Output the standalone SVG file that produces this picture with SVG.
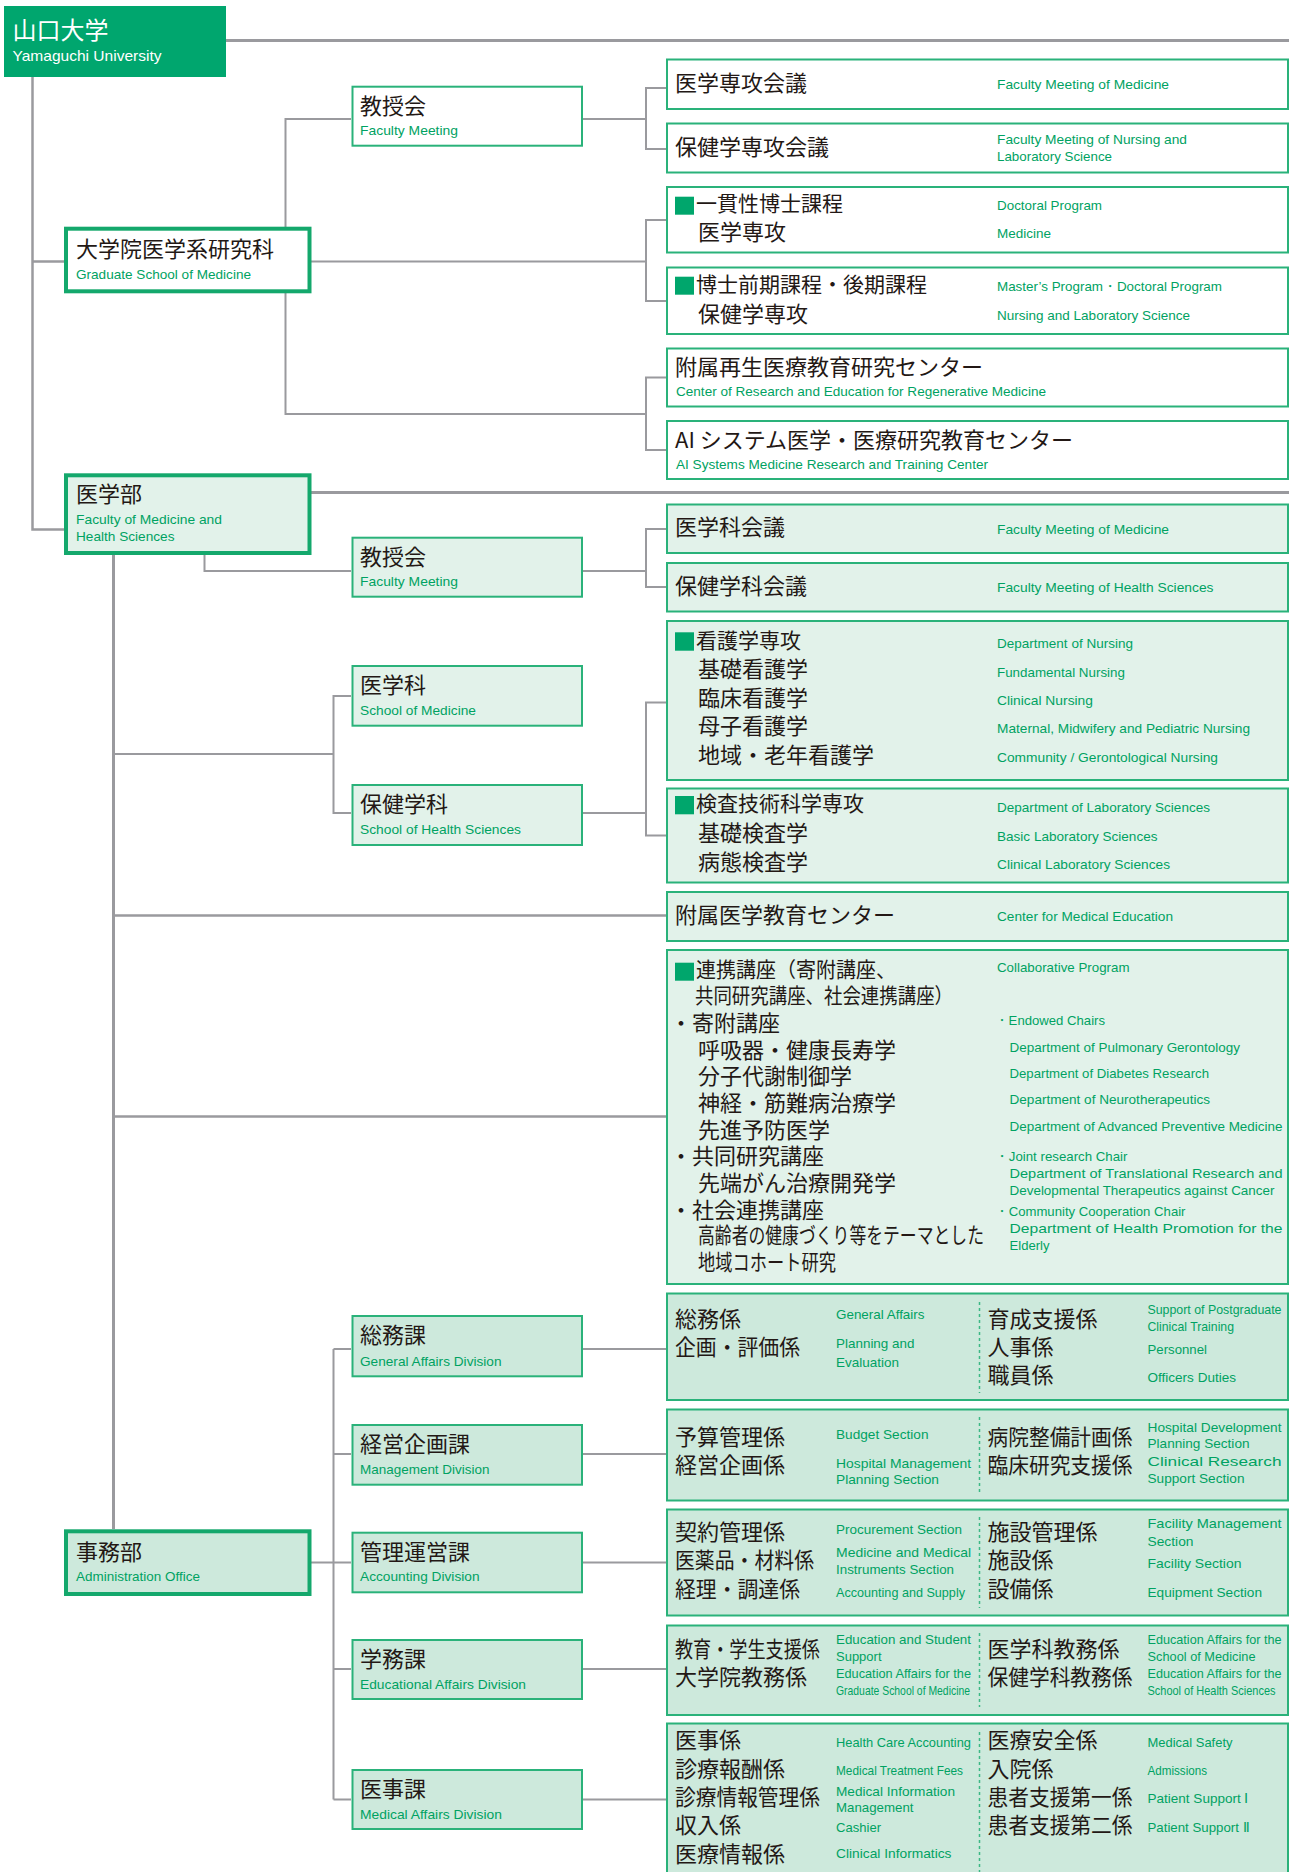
<svg xmlns="http://www.w3.org/2000/svg" width="1289" height="1872" viewBox="0 0 1289 1872">
<style>
.ln{stroke:#9a9a9e;stroke-width:2;fill:none}
.lb{stroke-width:3}
.j{font-family:"Noto Sans CJK JP","Noto Sans CJK SC",sans-serif;font-size:22px;fill:#231815}
.jh{font-size:21px}
.e{font-family:"Liberation Sans",Arial,sans-serif;font-size:13.5px;fill:#00a262}
.w{fill:#fff}
.bt{fill:#fff;stroke:#14a86c;stroke-width:4}
.bm{fill:#e2f2ea;stroke:#14a86c;stroke-width:4}
.ba{fill:#cde9dc;stroke:#14a86c;stroke-width:4}
.s0{fill:#fff;stroke:#2ab27a;stroke-width:2}
.s1{fill:#e2f2ea;stroke:#2ab27a;stroke-width:2}
.s2{fill:#cde9dc;stroke:#2ab27a;stroke-width:2}
.sq{fill:#00a66c}
.dv{stroke:#3cb884;stroke-width:1.5;stroke-dasharray:3 3;fill:none}
</style>

<g id="connectors">
<path class="ln lb" d="M226 40.5H1289"/>
<path class="ln" style="stroke-width:2.5" d="M32.5 77V529.5H64M32.5 261.5H64"/>
<path class="ln" d="M311 261.5H646M351 119H285.5V414H646M583 119H646"/>
<path class="ln" d="M667 88H646V149H667"/>
<path class="ln" d="M667 220H646V301H667"/>
<path class="ln" d="M667 377.5H646V450H667"/>
<path class="ln lb" d="M311 492.5H1289"/>
<path class="ln" d="M204.5 555V571H351M583 571H646M667 529H646V587H667"/>
<path class="ln lb" d="M113.5 555V1529"/>
<path class="ln" d="M113.5 754H333.5M351 696H333.5V813H351M583 813H646M667 702.5H646V835.5H667"/>
<path class="ln" style="stroke-width:2.5" d="M113.5 915.5H667M113.5 1116.5H667"/>
<path class="ln" d="M311 1562.5H351M333.5 1349V1799.5M333.5 1349H351M333.5 1454H351M333.5 1669H351M333.5 1799.5H351"/>
<path class="ln" d="M583 1349H667M583 1454H667M583 1562.5H667M583 1669H667M583 1799.5H667"/>
</g>

<g id="n-yamaguchi">
<rect x="4" y="6" width="222" height="71" fill="#00a66e"/>
<text class="j w" x="12.5" y="39" style="font-size:24px">山口大学</text>
<text class="e w" x="12.5" y="61" style="font-size:14.5px" textLength="149" lengthAdjust="spacingAndGlyphs">Yamaguchi University</text>
</g>

<g id="n-graduate">
<rect class="bt" x="66" y="228.7" width="243.5" height="62.6"/>
<text class="j" x="76" y="257">大学院医学系研究科</text>
<text class="e" x="76" y="278.5" textLength="175" lengthAdjust="spacingAndGlyphs">Graduate School of Medicine</text>
</g>

<g id="n-fm1">
<rect class="s0" x="352.5" y="86.7" width="229.5" height="59"/>
<text class="j" x="360" y="114">教授会</text>
<text class="e" x="360" y="135" textLength="98" lengthAdjust="spacingAndGlyphs">Faculty Meeting</text>
</g>

<g id="r1">
<rect class="s0" x="667" y="59.5" width="621" height="49.5"/>
<text class="j" x="675" y="90.5">医学専攻会議</text>
<text class="e" x="997" y="88.5" textLength="172" lengthAdjust="spacingAndGlyphs">Faculty Meeting of Medicine</text>
</g>
<g id="r2">
<rect class="s0" x="667" y="123.5" width="621" height="49"/>
<text class="j" x="675" y="154.5">保健学専攻会議</text>
<text class="e" x="997" y="143.5" textLength="190" lengthAdjust="spacingAndGlyphs">Faculty Meeting of Nursing and</text>
<text class="e" x="997" y="161" textLength="115" lengthAdjust="spacingAndGlyphs">Laboratory Science</text>
</g>
<g id="r3">
<rect class="s0" x="667" y="187" width="621" height="65.5"/>
<rect class="sq" x="675" y="196.7" width="19" height="18"/>
<text class="j jh" x="696" y="210.5">一貫性博士課程</text>
<text class="j" x="698" y="239.5">医学専攻</text>
<text class="e" x="997" y="209.5" textLength="105" lengthAdjust="spacingAndGlyphs">Doctoral Program</text>
<text class="e" x="997" y="237.5" textLength="54" lengthAdjust="spacingAndGlyphs">Medicine</text>
</g>
<g id="r4">
<rect class="s0" x="667" y="267.5" width="621" height="66.5"/>
<rect class="sq" x="675" y="276.7" width="19" height="18"/>
<text class="j jh" x="696" y="292">博士前期課程・後期課程</text>
<text class="j" x="698" y="321.5">保健学専攻</text>
<text class="e" x="997" y="291" textLength="225" lengthAdjust="spacingAndGlyphs">Master’s Program・Doctoral Program</text>
<text class="e" x="997" y="319.5" textLength="193" lengthAdjust="spacingAndGlyphs">Nursing and Laboratory Science</text>
</g>
<g id="r5">
<rect class="s0" x="667" y="348.5" width="621" height="58"/>
<text class="j" x="675" y="374.5">附属再生医療教育研究センター</text>
<text class="e" x="676" y="396" textLength="370" lengthAdjust="spacingAndGlyphs">Center of Research and Education for Regenerative Medicine</text>
</g>
<g id="r6">
<rect class="s0" x="667" y="421" width="621" height="58"/>
<text class="j" x="675" y="447.5">AI システム医学・医療研究教育センター</text>
<text class="e" x="676" y="469" textLength="312" lengthAdjust="spacingAndGlyphs">AI Systems Medicine Research and Training Center</text>
</g>

<g id="n-igakubu">
<rect class="bm" x="66" y="475.3" width="243.5" height="77.7"/>
<text class="j" x="76" y="502">医学部</text>
<text class="e" x="76" y="523.5" textLength="146" lengthAdjust="spacingAndGlyphs">Faculty of Medicine and</text>
<text class="e" x="76" y="540.5" textLength="98.5" lengthAdjust="spacingAndGlyphs">Health Sciences</text>
</g>

<g id="n-fm2">
<rect class="s1" x="352.5" y="537.7" width="229.5" height="59"/>
<text class="j" x="360" y="564.5">教授会</text>
<text class="e" x="360" y="586" textLength="98" lengthAdjust="spacingAndGlyphs">Faculty Meeting</text>
</g>
<g id="n-igakuka">
<rect class="s1" x="352.5" y="666" width="229.5" height="59.7"/>
<text class="j" x="360" y="693">医学科</text>
<text class="e" x="360" y="714.5" textLength="116" lengthAdjust="spacingAndGlyphs">School of Medicine</text>
</g>
<g id="n-hokengakuka">
<rect class="s1" x="352.5" y="785" width="229.5" height="60"/>
<text class="j" x="360" y="811.5">保健学科</text>
<text class="e" x="360" y="833.5" textLength="161" lengthAdjust="spacingAndGlyphs">School of Health Sciences</text>
</g>

<g id="r7">
<rect class="s1" x="667" y="504.5" width="621" height="48.5"/>
<text class="j" x="675" y="535">医学科会議</text>
<text class="e" x="997" y="533.5" textLength="172" lengthAdjust="spacingAndGlyphs">Faculty Meeting of Medicine</text>
</g>
<g id="r8">
<rect class="s1" x="667" y="563" width="621" height="48.5"/>
<text class="j" x="675" y="594">保健学科会議</text>
<text class="e" x="997" y="592" textLength="216.5" lengthAdjust="spacingAndGlyphs">Faculty Meeting of Health Sciences</text>
</g>
<g id="r9">
<rect class="s1" x="667" y="621" width="621" height="159"/>
<rect class="sq" x="675" y="632.3" width="19" height="18.4"/>
<text class="j jh" x="696" y="647.5">看護学専攻</text>
<text class="j" x="698" y="676.5">基礎看護学</text>
<text class="j" x="698" y="705.5">臨床看護学</text>
<text class="j" x="698" y="734">母子看護学</text>
<text class="j" x="698" y="763">地域・老年看護学</text>
<text class="e" x="997" y="648" textLength="136" lengthAdjust="spacingAndGlyphs">Department of Nursing</text>
<text class="e" x="997" y="676.5" textLength="128" lengthAdjust="spacingAndGlyphs">Fundamental Nursing</text>
<text class="e" x="997" y="704.5" textLength="96" lengthAdjust="spacingAndGlyphs">Clinical Nursing</text>
<text class="e" x="997" y="733" textLength="253" lengthAdjust="spacingAndGlyphs">Maternal, Midwifery and Pediatric Nursing</text>
<text class="e" x="997" y="761.5" textLength="221" lengthAdjust="spacingAndGlyphs">Community / Gerontological Nursing</text>
</g>
<g id="r10">
<rect class="s1" x="667" y="788.5" width="621" height="94"/>
<rect class="sq" x="675" y="796" width="19" height="18.3"/>
<text class="j jh" x="696" y="811">検査技術科学専攻</text>
<text class="j" x="698" y="840.5">基礎検査学</text>
<text class="j" x="698" y="869.5">病態検査学</text>
<text class="e" x="997" y="812" textLength="213" lengthAdjust="spacingAndGlyphs">Department of Laboratory Sciences</text>
<text class="e" x="997" y="840.5" textLength="160.5" lengthAdjust="spacingAndGlyphs">Basic Laboratory Sciences</text>
<text class="e" x="997" y="868.5" textLength="173" lengthAdjust="spacingAndGlyphs">Clinical Laboratory Sciences</text>
</g>
<g id="r11">
<rect class="s1" x="667" y="892" width="621" height="49"/>
<text class="j" x="675" y="923">附属医学教育センター</text>
<text class="e" x="997" y="920.5" textLength="176" lengthAdjust="spacingAndGlyphs">Center for Medical Education</text>
</g>
<g id="r12">
<rect class="s1" x="667" y="950" width="621" height="334"/>
<rect class="sq" x="675" y="962.7" width="19" height="18"/>
<text class="j jh" x="696" y="976.5" textLength="200" lengthAdjust="spacingAndGlyphs">連携講座（寄附講座、</text>
<text class="j jh" x="695" y="1003" textLength="258" lengthAdjust="spacingAndGlyphs">共同研究講座、社会連携講座）</text>
<text class="j" x="670" y="1030.5">・寄附講座</text>
<text class="j" x="698" y="1057.5">呼吸器・健康長寿学</text>
<text class="j" x="698" y="1084">分子代謝制御学</text>
<text class="j" x="698" y="1110.5">神経・筋難病治療学</text>
<text class="j" x="698" y="1137.5">先進予防医学</text>
<text class="j" x="670" y="1164">・共同研究講座</text>
<text class="j" x="698" y="1190.5">先端がん治療開発学</text>
<text class="j" x="670" y="1217.5">・社会連携講座</text>
<text class="j" x="698" y="1243" textLength="286" lengthAdjust="spacingAndGlyphs">高齢者の健康づくり等をテーマとした</text>
<text class="j" x="698" y="1269.5" textLength="138" lengthAdjust="spacingAndGlyphs">地域コホート研究</text>
<text class="e" x="997" y="972" textLength="132.5" lengthAdjust="spacingAndGlyphs">Collaborative Program</text>
<text class="e" x="995" y="1024.5" textLength="110" lengthAdjust="spacingAndGlyphs">・Endowed Chairs</text>
<text class="e" x="1009.5" y="1051.5" textLength="230.5" lengthAdjust="spacingAndGlyphs">Department of Pulmonary Gerontology</text>
<text class="e" x="1009.5" y="1077.5" textLength="199.5" lengthAdjust="spacingAndGlyphs">Department of Diabetes Research</text>
<text class="e" x="1009.5" y="1104" textLength="200.5" lengthAdjust="spacingAndGlyphs">Department of Neurotherapeutics</text>
<text class="e" x="1009.5" y="1130.5" textLength="273" lengthAdjust="spacingAndGlyphs">Department of Advanced Preventive Medicine</text>
<text class="e" x="995" y="1160.5" textLength="132.5" lengthAdjust="spacingAndGlyphs">・Joint research Chair</text>
<text class="e" x="1009.5" y="1178" textLength="273" lengthAdjust="spacingAndGlyphs">Department of Translational Research and</text>
<text class="e" x="1009.5" y="1194.5" textLength="265" lengthAdjust="spacingAndGlyphs">Developmental Therapeutics against Cancer</text>
<text class="e" x="995" y="1215.5" textLength="190.5" lengthAdjust="spacingAndGlyphs">・Community Cooperation Chair</text>
<text class="e" x="1009.5" y="1233" textLength="273" lengthAdjust="spacingAndGlyphs">Department of Health Promotion for the</text>
<text class="e" x="1009.5" y="1249.5" textLength="40" lengthAdjust="spacingAndGlyphs">Elderly</text>
</g>

<g id="n-jimubu">
<rect class="ba" x="66" y="1531.3" width="243.5" height="62.7"/>
<text class="j" x="76" y="1559.5">事務部</text>
<text class="e" x="76" y="1581" textLength="124" lengthAdjust="spacingAndGlyphs">Administration Office</text>
</g>
<g id="n-somuka">
<rect class="s2" x="352.5" y="1316" width="229.5" height="60.3"/>
<text class="j" x="360" y="1343">総務課</text>
<text class="e" x="360" y="1365.5" textLength="141.5" lengthAdjust="spacingAndGlyphs">General Affairs Division</text>
</g>
<g id="n-keiei">
<rect class="s2" x="352.5" y="1425" width="229.5" height="59.7"/>
<text class="j" x="360" y="1451.5">経営企画課</text>
<text class="e" x="360" y="1473.5" textLength="129.5" lengthAdjust="spacingAndGlyphs">Management Division</text>
</g>
<g id="n-kanri">
<rect class="s2" x="352.5" y="1532.7" width="229.5" height="59.6"/>
<text class="j" x="360" y="1559.5">管理運営課</text>
<text class="e" x="360" y="1581" textLength="119.5" lengthAdjust="spacingAndGlyphs">Accounting Division</text>
</g>
<g id="n-gakumu">
<rect class="s2" x="352.5" y="1640" width="229.5" height="59"/>
<text class="j" x="360" y="1666.5">学務課</text>
<text class="e" x="360" y="1688.5" textLength="166" lengthAdjust="spacingAndGlyphs">Educational Affairs Division</text>
</g>
<g id="n-iji">
<rect class="s2" x="352.5" y="1770" width="229.5" height="59"/>
<text class="j" x="360" y="1796.5">医事課</text>
<text class="e" x="360" y="1818.5" textLength="142" lengthAdjust="spacingAndGlyphs">Medical Affairs Division</text>
</g>

<g id="a1">
<rect class="s2" x="667" y="1293.5" width="621" height="106.5"/>
<path class="dv" d="M979.5 1302V1393"/>
<text class="j" x="675" y="1326.5">総務係</text>
<text class="j" x="675" y="1354.5" textLength="125" lengthAdjust="spacingAndGlyphs">企画・評価係</text>
<text class="e" x="836" y="1319" textLength="88.5" lengthAdjust="spacingAndGlyphs">General Affairs</text>
<text class="e" x="836" y="1348" textLength="78.5" lengthAdjust="spacingAndGlyphs">Planning and</text>
<text class="e" x="836" y="1366.5" textLength="63" lengthAdjust="spacingAndGlyphs">Evaluation</text>
<text class="j" x="987.5" y="1326.5">育成支援係</text>
<text class="j" x="987.5" y="1354.5">人事係</text>
<text class="j" x="987.5" y="1383">職員係</text>
<text class="e" x="1147.5" y="1314" textLength="134" lengthAdjust="spacingAndGlyphs">Support of Postgraduate</text>
<text class="e" x="1147.5" y="1331" textLength="86.5" lengthAdjust="spacingAndGlyphs">Clinical Training</text>
<text class="e" x="1147.5" y="1354" textLength="59.5" lengthAdjust="spacingAndGlyphs">Personnel</text>
<text class="e" x="1147.5" y="1382" textLength="88.5" lengthAdjust="spacingAndGlyphs">Officers Duties</text>
</g>
<g id="a2">
<rect class="s2" x="667" y="1409.5" width="621" height="91"/>
<path class="dv" d="M979.5 1417V1493"/>
<text class="j" x="675" y="1444.5">予算管理係</text>
<text class="j" x="675" y="1473">経営企画係</text>
<text class="e" x="836" y="1439" textLength="92.5" lengthAdjust="spacingAndGlyphs">Budget Section</text>
<text class="e" x="836" y="1467.5" textLength="135" lengthAdjust="spacingAndGlyphs">Hospital Management</text>
<text class="e" x="836" y="1484" textLength="103" lengthAdjust="spacingAndGlyphs">Planning Section</text>
<text class="j" x="987.5" y="1444.5" textLength="145" lengthAdjust="spacingAndGlyphs">病院整備計画係</text>
<text class="j" x="987.5" y="1473" textLength="145" lengthAdjust="spacingAndGlyphs">臨床研究支援係</text>
<text class="e" x="1147.5" y="1431.5" textLength="134" lengthAdjust="spacingAndGlyphs">Hospital Development</text>
<text class="e" x="1147.5" y="1448" textLength="102" lengthAdjust="spacingAndGlyphs">Planning Section</text>
<text class="e" x="1147.5" y="1465.5" textLength="134" lengthAdjust="spacingAndGlyphs">Clinical Research</text>
<text class="e" x="1147.5" y="1482.5" textLength="97" lengthAdjust="spacingAndGlyphs">Support Section</text>
</g>
<g id="a3">
<rect class="s2" x="667" y="1509.5" width="621" height="106"/>
<path class="dv" d="M979.5 1517V1608"/>
<text class="j" x="675" y="1539.5">契約管理係</text>
<text class="j" x="675" y="1568" textLength="139" lengthAdjust="spacingAndGlyphs">医薬品・材料係</text>
<text class="j" x="675" y="1596.5" textLength="125" lengthAdjust="spacingAndGlyphs">経理・調達係</text>
<text class="e" x="836" y="1534" textLength="126" lengthAdjust="spacingAndGlyphs">Procurement Section</text>
<text class="e" x="836" y="1556.5" textLength="135" lengthAdjust="spacingAndGlyphs">Medicine and Medical</text>
<text class="e" x="836" y="1573.5" textLength="118" lengthAdjust="spacingAndGlyphs">Instruments Section</text>
<text class="e" x="836" y="1596.5" textLength="129" lengthAdjust="spacingAndGlyphs">Accounting and Supply</text>
<text class="j" x="987.5" y="1539.5">施設管理係</text>
<text class="j" x="987.5" y="1568">施設係</text>
<text class="j" x="987.5" y="1596.5">設備係</text>
<text class="e" x="1147.5" y="1528" textLength="134" lengthAdjust="spacingAndGlyphs">Facility Management</text>
<text class="e" x="1147.5" y="1545.5" textLength="46" lengthAdjust="spacingAndGlyphs">Section</text>
<text class="e" x="1147.5" y="1568" textLength="94" lengthAdjust="spacingAndGlyphs">Facility Section</text>
<text class="e" x="1147.5" y="1596.5" textLength="114.5" lengthAdjust="spacingAndGlyphs">Equipment Section</text>
</g>
<g id="a4">
<rect class="s2" x="667" y="1625.5" width="621" height="89.5"/>
<path class="dv" d="M979.5 1633V1707"/>
<text class="j" x="675" y="1656.5" textLength="145" lengthAdjust="spacingAndGlyphs">教育・学生支援係</text>
<text class="j" x="675" y="1685">大学院教務係</text>
<text class="e" x="836" y="1644" textLength="135" lengthAdjust="spacingAndGlyphs">Education and Student</text>
<text class="e" x="836" y="1661" textLength="45.5" lengthAdjust="spacingAndGlyphs">Support</text>
<text class="e" x="836" y="1678" textLength="135" lengthAdjust="spacingAndGlyphs">Education Affairs for the</text>
<text class="e" x="836" y="1695" textLength="134" lengthAdjust="spacingAndGlyphs">Graduate School of Medicine</text>
<text class="j" x="987.5" y="1656.5">医学科教務係</text>
<text class="j" x="987.5" y="1685" textLength="145" lengthAdjust="spacingAndGlyphs">保健学科教務係</text>
<text class="e" x="1147.5" y="1644" textLength="134" lengthAdjust="spacingAndGlyphs">Education Affairs for the</text>
<text class="e" x="1147.5" y="1661" textLength="108" lengthAdjust="spacingAndGlyphs">School of Medicine</text>
<text class="e" x="1147.5" y="1678" textLength="134" lengthAdjust="spacingAndGlyphs">Education Affairs for the</text>
<text class="e" x="1147.5" y="1695" textLength="128" lengthAdjust="spacingAndGlyphs">School of Health Sciences</text>
</g>
<g id="a5">
<rect class="s2" x="667" y="1723.5" width="621" height="160"/>
<path class="dv" d="M979.5 1732V1872"/>
<text class="j" x="675" y="1748">医事係</text>
<text class="j" x="675" y="1776.5">診療報酬係</text>
<text class="j" x="675" y="1805" textLength="145" lengthAdjust="spacingAndGlyphs">診療情報管理係</text>
<text class="j" x="675" y="1833">収入係</text>
<text class="j" x="675" y="1861.5">医療情報係</text>
<text class="e" x="836" y="1746.5" textLength="135" lengthAdjust="spacingAndGlyphs">Health Care Accounting</text>
<text class="e" x="836" y="1775" textLength="127" lengthAdjust="spacingAndGlyphs">Medical Treatment Fees</text>
<text class="e" x="836" y="1796" textLength="119" lengthAdjust="spacingAndGlyphs">Medical Information</text>
<text class="e" x="836" y="1811.5" textLength="77.5" lengthAdjust="spacingAndGlyphs">Management</text>
<text class="e" x="836" y="1831.5" textLength="45" lengthAdjust="spacingAndGlyphs">Cashier</text>
<text class="e" x="836" y="1858" textLength="115.5" lengthAdjust="spacingAndGlyphs">Clinical Informatics</text>
<text class="j" x="987.5" y="1748">医療安全係</text>
<text class="j" x="987.5" y="1776.5">入院係</text>
<text class="j" x="987.5" y="1805" textLength="145" lengthAdjust="spacingAndGlyphs">患者支援第一係</text>
<text class="j" x="987.5" y="1833" textLength="145" lengthAdjust="spacingAndGlyphs">患者支援第二係</text>
<text class="e" x="1147.5" y="1746.5" textLength="85" lengthAdjust="spacingAndGlyphs">Medical Safety</text>
<text class="e" x="1147.5" y="1775" textLength="59.5" lengthAdjust="spacingAndGlyphs">Admissions</text>
<text class="e" x="1147.5" y="1803" textLength="101" lengthAdjust="spacingAndGlyphs">Patient Support Ⅰ</text>
<text class="e" x="1147.5" y="1831.5" textLength="102" lengthAdjust="spacingAndGlyphs">Patient Support Ⅱ</text>
</g>
</svg>
